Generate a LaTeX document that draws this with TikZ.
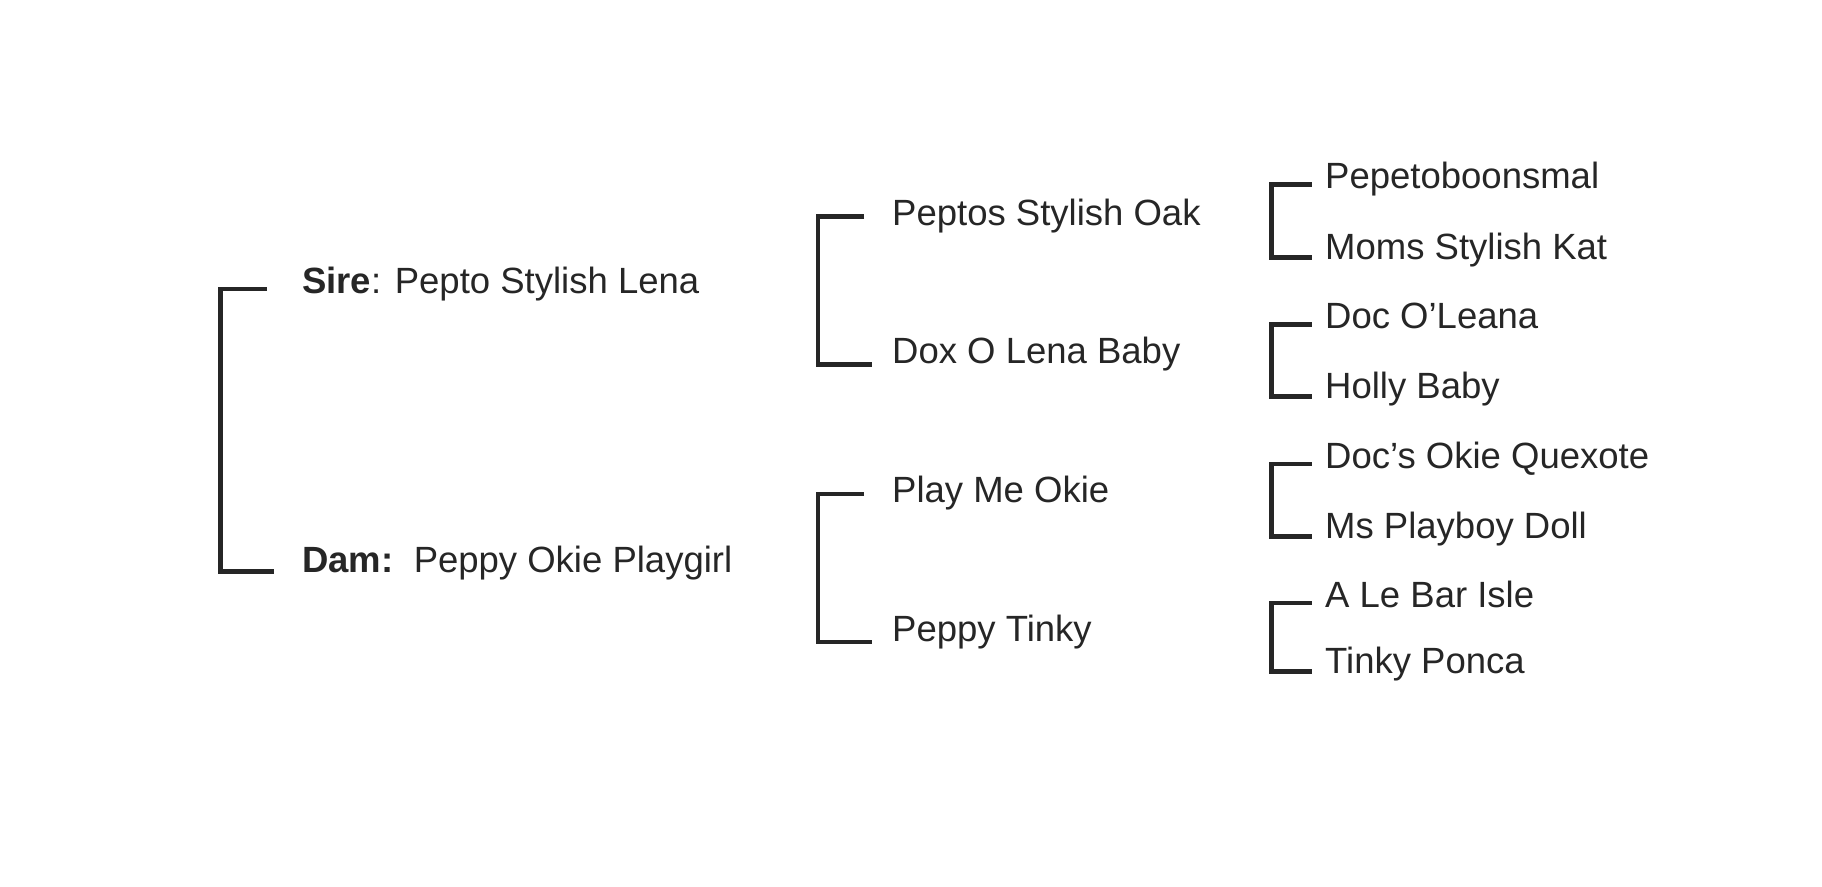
\documentclass[tikz,border=0pt]{standalone}
\usepackage{fontspec}
\setmainfont{Liberation Sans}
\usetikzlibrary{calc}
\definecolor{ink}{HTML}{262626}

\begin{document}
\begin{tikzpicture}[x=1pt,y=-1pt,
    horse/.style={anchor=base west,inner sep=0pt,text=ink,font=\fontsize{36.5}{44}\selectfont},
    bracket/.style={draw=ink,line width=4.2pt}]
    \useasboundingbox (0,0) rectangle (1822,886);

    % parents
    \node[horse] (sire) at (302,293) {\textbf{Sire}: Pepto Stylish Lena};
    \node[horse] (dam) at (302,572) {\textbf{Dam:}\ \ Peppy Okie Playgirl};

    % grandparents
    \node[horse] (ss) at (892,225) {Peptos Stylish Oak};
    \node[horse] (sd) at (892,363.5) {Dox O Lena Baby};
    \node[horse] (ds) at (892,502.5) {Play Me Okie};
    \node[horse] (dd) at (892,641) {Peppy Tinky};

    % great grandparents
    \node[horse] (sss) at (1325,188.5) {Pepetoboonsmal};
    \node[horse] (ssd) at (1325,259) {Moms Stylish Kat};
    \node[horse] (sds) at (1325,328.5) {Doc O’Leana};
    \node[horse] (sdd) at (1325,398) {Holly Baby};
    \node[horse] (dss) at (1325,468) {Doc’s Okie Quexote};
    \node[horse] (dsd) at (1325,538) {Ms Playboy Doll};
    \node[horse] (dds) at (1325,607) {A Le Bar Isle};
    \node[horse] (ddd) at (1325,673) {Tinky Ponca};

    % brackets
    \draw[bracket] ($(sire.base west)+(-35,-4)$) -| ($(dam.base west)+(-81.5,-0.5)$) -- ($(dam.base west)+(-28,-0.5)$);
    \foreach \a/\b in {ss/sd, ds/dd}
        \draw[bracket] ($(\a.base west)+(-28,-8.5)$) -| ($(\b.base west)+(-74,1)$) -- ($(\b.base west)+(-20,1)$);
    \foreach \a/\b in {sss/ssd, sds/sdd, dss/dsd, dds/ddd}
        \draw[bracket] ($(\a.base west)+(-13.5,-4)$) -| ($(\b.base west)+(-53.5,-1.5)$) -- ($(\b.base west)+(-13.5,-1.5)$);
\end{tikzpicture}
\end{document}
